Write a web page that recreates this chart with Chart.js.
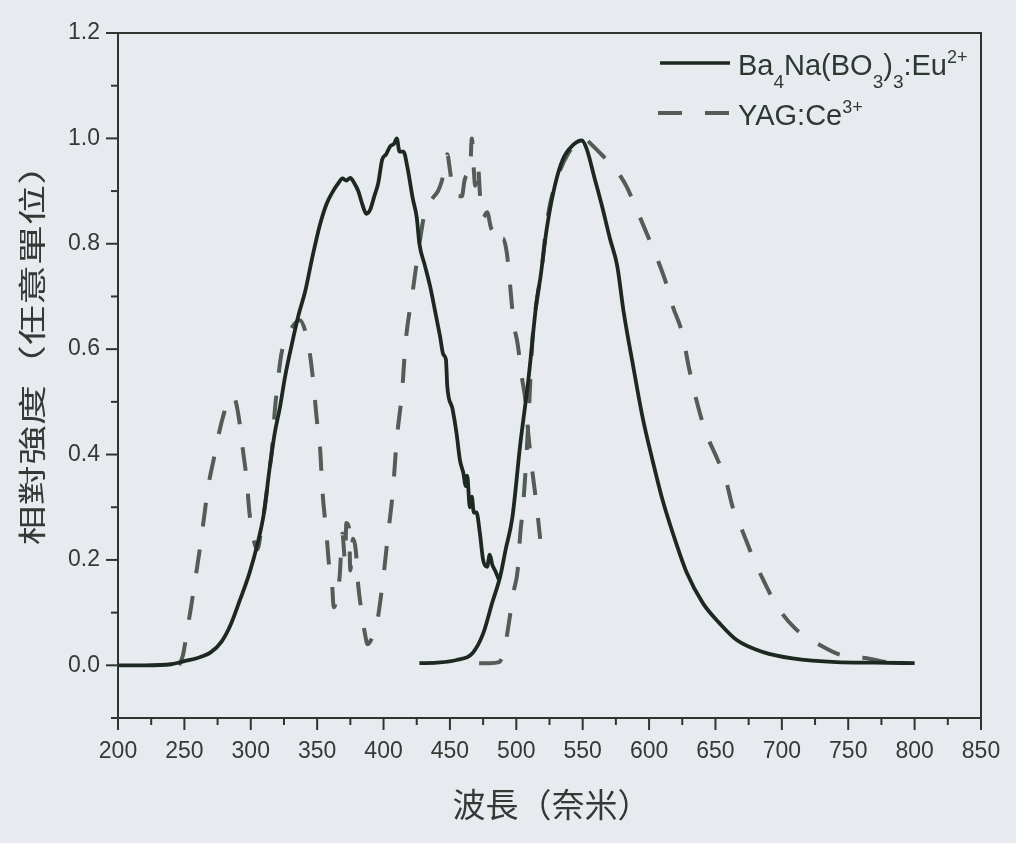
<!DOCTYPE html>
<html>
<head>
<meta charset="utf-8">
<script src="https://cdn.jsdelivr.net/npm/chart.js@4/dist/chart.umd.min.js"></script>
<style>
html,body{margin:0;padding:0;background:#e7ebef;}
canvas{display:block;}
</style>
</head>
<body>
<canvas id="c" width="1016" height="843"></canvas>
<script>
// ---- Data ----
// Ba4Na(BO3)3:Eu2+ excitation (solid)
const euExcX = [200,220,240,250,260,270,278,285,292,299,305,310,314,318,322,326,331,336,341,346,352,357,362,366,369,372,375,378,381,384,387,390,393,396,399,402,405,408,410,412,415,418,422,425,427,431,435,439,442.5,445,447,448,452,455,457.5,460,462,463,465,466.5,468,470,472.6,475,478,480,482,484,487];
const euExcY = [0,0,0.002,0.008,0.014,0.025,0.045,0.078,0.125,0.175,0.23,0.29,0.37,0.44,0.49,0.55,0.61,0.665,0.71,0.77,0.835,0.875,0.9,0.915,0.924,0.92,0.925,0.915,0.9,0.875,0.857,0.865,0.89,0.915,0.96,0.97,0.985,0.99,1.0,0.975,0.975,0.945,0.886,0.85,0.8,0.76,0.72,0.67,0.625,0.59,0.58,0.53,0.486,0.44,0.39,0.366,0.34,0.36,0.3,0.32,0.29,0.29,0.25,0.2,0.187,0.21,0.19,0.18,0.162];
// Ba4Na(BO3)3:Eu2+ emission (solid)
const euEmX = [427,440,455,467,475,482,488,492,497,503,509,515.5,518,523,529,535,542.6,549.4,553,559,564.5,570.5,576,581,588,595,603,610,618,628.5,640.5,653,666,686,708,741,770,800];
const euEmY = [0.004,0.005,0.01,0.023,0.06,0.12,0.17,0.22,0.28,0.42,0.54,0.695,0.733,0.83,0.91,0.96,0.987,0.996,0.98,0.924,0.872,0.81,0.758,0.668,0.568,0.472,0.385,0.315,0.25,0.175,0.118,0.08,0.048,0.025,0.013,0.006,0.005,0.004];
// YAG:Ce3+ excitation (dashed)
const yagExcX = [246,249,252,255,258,261,264,268,272,276,280,284,288,291,294,297,299,302,305,308,311,314,316,318,320,323,327,332,337,341,344,347,350,352,354,357,359,361,362.5,365,367,369,371,372,374,375,377,379,381,383,386,388,391,395,398,400,403,407,410,414,416.5,422,427,432,435,438,441,444,448,450,452,455,459,461,463,465,466.5,468,469,471,473,475,478,481,484,487,490,493,495,498,501,504,507,509,512,515,518];
const yagExcY = [0,0.02,0.065,0.11,0.16,0.21,0.265,0.34,0.39,0.44,0.48,0.51,0.505,0.47,0.41,0.35,0.29,0.24,0.22,0.26,0.31,0.37,0.41,0.48,0.53,0.59,0.62,0.645,0.655,0.635,0.6,0.54,0.46,0.42,0.33,0.25,0.19,0.165,0.11,0.13,0.17,0.25,0.2,0.27,0.26,0.18,0.24,0.22,0.15,0.11,0.06,0.04,0.05,0.08,0.13,0.17,0.24,0.33,0.43,0.52,0.61,0.71,0.8,0.87,0.88,0.89,0.9,0.92,0.97,0.94,0.905,0.89,0.89,0.92,0.93,0.93,1.0,0.94,0.91,0.95,0.88,0.85,0.86,0.83,0.82,0.8,0.81,0.78,0.73,0.65,0.61,0.55,0.5,0.44,0.37,0.31,0.24];
// YAG:Ce3+ emission (dashed)
const yagEmX = [472,480,487,491,495,498,501,503,505,507,509,512.5,516,519,522,525,529,533,540,546,551,556,562,568,572,578,583,592,599,607,613,618,625,630,637,643,651,658,663,670,678,686,696,710,729,745,765,779,795];
const yagEmY = [0.004,0.004,0.006,0.03,0.09,0.14,0.18,0.25,0.3,0.37,0.46,0.63,0.7,0.75,0.82,0.87,0.91,0.94,0.975,0.995,1.0,0.99,0.975,0.96,0.952,0.93,0.909,0.857,0.815,0.766,0.724,0.68,0.63,0.565,0.49,0.44,0.394,0.35,0.3,0.257,0.206,0.162,0.114,0.07,0.038,0.019,0.013,0.006,0.003];

const xTickLabels = [200,250,300,350,400,450,500,550,600,650,700,750,800,850];
const yTickLabels = [0.0,0.2,0.4,0.6,0.8,1.0,1.2];
const xTitle = '波長（奈米）';
const yTitle = '相對強度（任意單位）';
const legendEu = [{t:'Ba'},{t:'4',sub:true},{t:'Na(BO'},{t:'3',sub:true},{t:')'},{t:'3',sub:true},{t:':Eu'},{t:'2+',sup:true}];
const legendYag = [{t:'YAG:Ce'},{t:'3+',sup:true}];

// ---- Styles ----
const BG = '#e7ebef';
const SOLID = '#1d2821';
const DASH = '#555b57';
const AXIS = '#2c3530';
const TXT = '#333a35';
const LATIN = '"Liberation Sans", Arial, sans-serif';
const CJK = '"Noto Sans CJK TC", "Noto Sans CJK SC", sans-serif';

function pts(xs, ys){ const n = Math.min(xs.length, ys.length); const a=[]; for(let i=0;i<n;i++) a.push({x:xs[i], y:ys[i]}); return a; }

function drawRich(ctx, x, y, parts, size){
  ctx.textAlign='left'; ctx.textBaseline='alphabetic';
  for(const p of parts){
    let s = size, dy = 0;
    if(p.sub){ s = 19; dy = 13; }
    if(p.sup){ s = 18; dy = -12; }
    ctx.font = s + 'px ' + LATIN;
    ctx.fillText(p.t, x, y+dy);
    x += ctx.measureText(p.t).width;
  }
}

const bgPlugin = {
  id:'bg',
  beforeDraw(chart){
    const ctx = chart.ctx; ctx.save(); ctx.fillStyle = BG; ctx.fillRect(0,0,chart.width,chart.height); ctx.restore();
  }
};

const framePlugin = {
  id:'frame',
  afterDraw(chart){
    const {ctx, chartArea:a, scales} = chart;
    const xs = scales.x, ys = scales.y;
    ctx.save();
    ctx.strokeStyle = AXIS; ctx.lineWidth = 2;
    ctx.strokeRect(a.left, a.top, a.right-a.left, a.bottom-a.top);
    // x ticks (major every 50, minor every 25)
    for(let v = xs.min; v <= xs.max + 1e-6; v += 25){
      const px = xs.getPixelForValue(v);
      const major = Math.round(v) % 50 === 0;
      ctx.beginPath(); ctx.moveTo(px, a.bottom); ctx.lineTo(px, a.bottom + (major?12:7)); ctx.stroke();
    }
    // y ticks (major every 0.2, minor every 0.1)
    for(let k = -1; k <= 12; k++){
      const py = ys.getPixelForValue(k/10);
      const major = k >= 0 && k % 2 === 0;
      ctx.beginPath(); ctx.moveTo(a.left, py); ctx.lineTo(a.left - (major?12:7), py); ctx.stroke();
    }
    // axis titles
    ctx.fillStyle = TXT;
    ctx.font = '33px ' + CJK;
    ctx.textAlign = 'center'; ctx.textBaseline = 'middle';
    ctx.fillText(xTitle, (a.left + a.right)/2 + 2, 804);
    ctx.save();
    ctx.translate(32, 345);
    ctx.rotate(-Math.PI/2);
    ctx.scale(1.43, 1);
    ctx.font = '28px ' + CJK;
    ctx.fillText(yTitle, 0, 0);
    ctx.restore();
    // legend
    ctx.lineWidth = 3.5; ctx.strokeStyle = SOLID; ctx.setLineDash([]);
    ctx.beginPath(); ctx.moveTo(660, 63); ctx.lineTo(730, 63); ctx.stroke();
    ctx.lineWidth = 4; ctx.strokeStyle = DASH; ctx.setLineDash([24, 23]);
    ctx.beginPath(); ctx.moveTo(658, 113); ctx.lineTo(729, 113); ctx.stroke();
    ctx.setLineDash([]);
    ctx.fillStyle = '#2e3832';
    drawRich(ctx, 738, 75, legendEu, 29);
    drawRich(ctx, 738, 125, legendYag, 29);
    ctx.restore();
  }
};

const common = {pointRadius:0, fill:false, cubicInterpolationMode:'monotone', borderCapStyle:'butt', borderJoinStyle:'round'};

new Chart(document.getElementById('c'), {
  type:'line',
  data:{
    datasets:[
      Object.assign({label:'Ba4Na(BO3)3:Eu2+ exc', data:pts(euExcX, euExcY), borderColor:SOLID, borderWidth:3.8}, common),
      Object.assign({label:'Ba4Na(BO3)3:Eu2+ em', data:pts(euEmX, euEmY), borderColor:SOLID, borderWidth:3.8}, common),
      Object.assign({label:'YAG:Ce3+ exc', data:pts(yagExcX, yagExcY), borderColor:DASH, borderWidth:4, borderDash:[24,23]}, common),
      Object.assign({label:'YAG:Ce3+ em', data:pts(yagEmX, yagEmY), borderColor:DASH, borderWidth:4, borderDash:[24,23]}, common)
    ]
  },
  options:{
    responsive:false,
    devicePixelRatio:1,
    animation:false,
    events:[],
    layout:{padding:{top:33, right:35, left:0, bottom:0}},
    plugins:{legend:{display:false}, tooltip:{enabled:false}, title:{display:false}},
    scales:{
      x:{
        type:'linear', min:200, max:850,
        border:{display:false},
        grid:{display:true, drawOnChartArea:false, drawTicks:true, tickLength:12, color:'rgba(0,0,0,0)'},
        afterBuildTicks(s){ s.ticks = xTickLabels.map(v=>({value:v})); },
        ticks:{color:TXT, font:{family:'Liberation Sans, Arial, sans-serif', size:23}, padding:8, maxRotation:0, autoSkip:false, callback:(v)=>String(v)},
        afterFit(s){ s.height = 125; }
      },
      y:{
        type:'linear', min:-0.1, max:1.2,
        border:{display:false},
        grid:{display:true, drawOnChartArea:false, drawTicks:true, tickLength:12, color:'rgba(0,0,0,0)'},
        afterBuildTicks(s){ s.ticks = yTickLabels.map(v=>({value:v})); },
        ticks:{color:TXT, font:{family:'Liberation Sans, Arial, sans-serif', size:23}, padding:6, autoSkip:false, callback:(v)=>Number(v).toFixed(1)},
        afterFit(s){ s.width = 118; }
      }
    }
  },
  plugins:[bgPlugin, framePlugin]
});
</script>
</body>
</html>
